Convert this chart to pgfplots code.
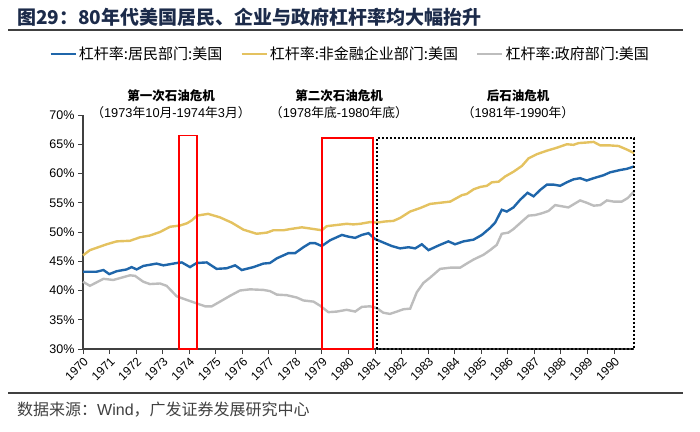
\documentclass[border=0pt]{standalone}
\usepackage{fontspec}
\usepackage{pgfplots}
\pgfplotsset{compat=1.18}
\setmainfont{Liberation Sans}
\newfontfamily\cjk{Noto Sans CJK SC}
\definecolor{hblue}{HTML}{1F66AA}
\definecolor{cyellow}{HTML}{E4C260}
\definecolor{ggray}{HTML}{BDBDBD}
\definecolor{titleblue}{HTML}{1C2B4A}
\definecolor{axisgray}{HTML}{404040}
\begin{document}
\begin{tikzpicture}[x=1pt,y=1pt]
\path[use as bounding box] (0,0) rectangle (700,-431);
% title
\node[anchor=west, inner sep=0pt, text=titleblue, font=\cjk\bfseries\fontsize{19}{21}\selectfont] at (17,-17) {图29：80年代美国居民、企业与政府杠杆率均大幅抬升};
\draw[axisgray, line width=1.4pt] (8,-30) -- (683,-30);
\begin{axis}[
  at={(83pt,-349pt)}, anchor=south west,
  scale only axis, width=551pt, height=234pt,
  xmin=1970, xmax=1990.75, ymin=30, ymax=70,
  axis x line*=bottom, axis y line*=left,
  axis line style={draw=axisgray, line width=1.3pt},
  xtick={1970,1971,1972,1973,1974,1975,1976,1977,1978,1979,1980,1981,1982,1983,1984,1985,1986,1987,1988,1989,1990},
  xticklabels={1970,1971,1972,1973,1974,1975,1976,1977,1978,1979,1980,1981,1982,1983,1984,1985,1986,1987,1988,1989,1990},
  ytick={30,35,40,45,50,55,60,65,70},
  yticklabels={30\%,35\%,40\%,45\%,50\%,55\%,60\%,65\%,70\%},
  tick style={draw=axisgray, line width=1pt},
  major tick length=5pt,
  tick align=outside,
  xticklabel style={rotate=45, anchor=north east, font=\fontsize{12}{13}\selectfont, inner sep=1.5pt},
  yticklabel style={font=\fontsize{12.5}{14}\selectfont},
  clip=false,
  legend columns=3,
  legend style={draw=none, at={(0.485,1.261)}, anchor=center, font=\cjk\fontsize{15}{17}\selectfont,
    /tikz/every even column/.append style={column sep=16pt}},
  legend image code/.code={\draw[#1, line width=2.5pt] (0pt,0pt) -- (25pt,0pt);},
]
\addplot[hblue, line width=2.4pt] coordinates {
(1970.0,43.2)(1970.5,43.2)(1970.77,43.5)(1970.99,42.8)(1971.27,43.3)(1971.64,43.6)(1971.83,44.0)(1972.02,43.6)(1972.27,44.2)(1972.77,44.6)(1973.03,44.3)(1973.53,44.7)(1973.72,44.8)(1974.03,44.0)(1974.28,44.7)(1974.66,44.8)(1975.03,43.7)(1975.41,43.8)(1975.73,44.3)(1975.98,43.5)(1976.42,44.0)(1976.79,44.6)(1977.04,44.7)(1977.3,45.5)(1977.74,46.4)(1977.99,46.4)(1978.3,47.4)(1978.55,48.1)(1978.74,48.1)(1978.99,47.6)(1979.31,48.6)(1979.75,49.5)(1980.0,49.2)(1980.25,49.0)(1980.5,49.5)(1980.75,49.8)(1981.0,48.8)(1981.31,48.2)(1981.63,47.6)(1981.94,47.2)(1982.26,47.4)(1982.51,47.2)(1982.76,47.9)(1983.01,46.9)(1983.39,47.7)(1983.76,48.4)(1984.01,47.9)(1984.33,48.4)(1984.71,48.7)(1985.02,49.5)(1985.33,50.7)(1985.52,51.6)(1985.77,53.8)(1985.96,53.5)(1986.21,54.2)(1986.46,55.5)(1986.74,56.7)(1986.97,56.1)(1987.22,57.2)(1987.47,58.1)(1987.72,58.1)(1987.97,57.9)(1988.22,58.5)(1988.47,59.0)(1988.72,59.2)(1988.97,58.8)(1989.23,59.2)(1989.6,59.7)(1989.85,60.2)(1990.23,60.6)(1990.48,60.8)(1990.75,61.2)
};
\addlegendentry{杠杆率:居民部门:美国}
\addplot[cyellow, line width=2.4pt] coordinates {
(1970.0,46.0)(1970.26,46.9)(1970.64,47.5)(1970.89,47.9)(1971.27,48.4)(1971.77,48.5)(1972.15,49.1)(1972.52,49.4)(1972.9,50.0)(1973.28,50.9)(1973.65,51.1)(1973.92,51.5)(1974.1,52.0)(1974.29,52.8)(1974.71,53.1)(1975.16,52.5)(1975.6,51.6)(1976.04,50.4)(1976.54,49.7)(1976.93,49.9)(1977.17,50.3)(1977.55,50.3)(1977.8,50.5)(1978.24,50.8)(1978.55,50.6)(1978.99,50.3)(1979.18,51.0)(1979.56,51.2)(1979.93,51.4)(1980.18,51.3)(1980.44,51.4)(1980.81,51.7)(1981.06,51.6)(1981.38,51.8)(1981.69,51.9)(1981.94,52.4)(1982.32,53.5)(1982.7,54.1)(1983.07,54.8)(1983.45,55.0)(1983.83,55.2)(1984.27,56.3)(1984.45,56.5)(1984.71,57.3)(1984.96,57.7)(1985.21,57.9)(1985.4,58.5)(1985.65,58.6)(1985.9,59.5)(1986.21,60.3)(1986.53,61.3)(1986.78,62.6)(1987.09,63.3)(1987.47,63.9)(1987.84,64.4)(1988.22,65.0)(1988.47,64.9)(1988.66,65.2)(1988.97,65.3)(1989.23,65.4)(1989.48,64.8)(1989.85,64.8)(1990.17,64.7)(1990.48,64.1)(1990.75,63.5)
};
\addlegendentry{杠杆率:非金融企业部门:美国}
\addplot[ggray, line width=2.4pt] coordinates {
(1970.0,41.5)(1970.26,40.8)(1970.77,42.0)(1971.14,41.8)(1971.77,42.6)(1971.96,42.5)(1972.27,41.5)(1972.52,41.1)(1972.9,41.2)(1973.15,40.8)(1973.53,39.0)(1973.9,38.4)(1974.28,37.8)(1974.6,37.3)(1974.85,37.3)(1975.16,38.1)(1975.54,39.1)(1975.91,40.0)(1976.29,40.2)(1976.79,40.1)(1977.04,39.9)(1977.3,39.3)(1977.67,39.2)(1978.05,38.8)(1978.3,38.3)(1978.68,38.1)(1978.93,37.4)(1979.24,36.3)(1979.56,36.4)(1979.93,36.7)(1980.25,36.4)(1980.5,37.2)(1980.81,37.3)(1981.06,37.0)(1981.31,36.2)(1981.56,36.0)(1981.82,36.4)(1982.07,36.8)(1982.32,36.9)(1982.57,39.7)(1982.82,41.3)(1983.07,42.2)(1983.45,43.7)(1983.83,43.9)(1984.2,43.9)(1984.45,44.6)(1984.71,45.3)(1985.08,46.1)(1985.33,46.9)(1985.58,47.8)(1985.77,49.7)(1986.02,49.9)(1986.21,50.5)(1986.53,51.8)(1986.78,52.8)(1987.03,52.9)(1987.28,53.2)(1987.53,53.6)(1987.78,54.6)(1988.03,54.4)(1988.28,54.2)(1988.72,55.4)(1988.97,55.0)(1989.23,54.5)(1989.48,54.6)(1989.73,55.4)(1989.98,55.2)(1990.29,55.2)(1990.51,55.8)(1990.75,56.9)
};
\addlegendentry{杠杆率:政府部门:美国}
\draw[red, line width=1.4pt] (axis cs:1973.62,30) rectangle (axis cs:1974.29,66.5);
\draw[red, line width=1.4pt] (axis cs:1979.0,30) rectangle (axis cs:1980.92,66.1);
\draw[black, line width=1.4pt, dash pattern=on 2.5pt off 1.5pt] (axis cs:1981.07,30) rectangle (axis cs:1990.75,66.1);
\end{axis}
% annotations
\node[font=\cjk\bfseries\fontsize{12.5}{14}\selectfont] at (171,-96) {第一次石油危机};
\node[font=\fontsize{12.8}{14}\selectfont] at (171,-113) {{\cjk （}1973{\cjk 年}10{\cjk 月}-1974{\cjk 年}3{\cjk 月）}};
\node[font=\cjk\bfseries\fontsize{12.5}{14}\selectfont] at (339,-96) {第二次石油危机};
\node[font=\fontsize{12.8}{14}\selectfont] at (339,-113) {{\cjk （}1978{\cjk 年底}-1980{\cjk 年底）}};
\node[font=\cjk\bfseries\fontsize{12.5}{14}\selectfont] at (518,-96) {后石油危机};
\node[font=\fontsize{12.8}{14}\selectfont] at (518,-113) {{\cjk （}1981{\cjk 年}-1990{\cjk 年）}};
% footer
\draw[axisgray, line width=1.4pt] (8,-393) -- (683,-393);
\node[anchor=west, inner sep=0pt, text=axisgray, font=\fontsize{16}{18}\selectfont] at (17,-410) {{\cjk 数据来源：}Wind{\cjk ，广发证券发展研究中心}};
\end{tikzpicture}
\end{document}
